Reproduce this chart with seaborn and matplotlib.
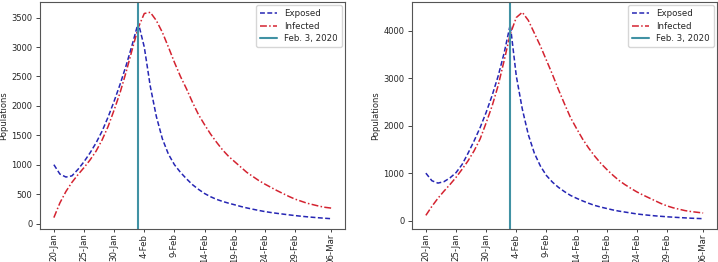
import matplotlib
matplotlib.use("Agg")
import matplotlib.pyplot as plt
import seaborn as sns
import pandas as pd
import numpy as np

# ---- data ----
dates = pd.date_range("2020-01-20", "2020-03-06", freq="D")
intervention_date = pd.Timestamp("2020-02-03")

exposed_left = [1000, 840, 790, 810, 920, 1050, 1200, 1370, 1570, 1810, 2080,
                2370, 2690, 3040, 3415, 3000, 2330, 1820, 1440, 1180, 1000,
                870, 760, 660, 580, 510, 455, 410, 375, 345, 318, 290, 265,
                243, 222, 203, 187, 173, 160, 147, 135, 124, 114, 105, 97, 89, 82]
infected_left = [100, 350, 544, 700, 830, 950, 1080, 1230, 1420, 1650, 1930,
                 2230, 2580, 2960, 3330, 3570, 3590, 3450, 3250, 3000, 2740,
                 2500, 2290, 2060, 1850, 1680, 1520, 1380, 1250, 1140, 1050,
                 960, 870, 800, 730, 670, 615, 560, 510, 460, 415, 380, 345,
                 320, 295, 275, 262]

exposed_right = [1000, 840, 790, 820, 900, 1010, 1180, 1420, 1680, 1960, 2280,
                 2640, 3050, 3540, 4130, 3050, 2350, 1810, 1420, 1150, 950,
                 810, 700, 610, 530, 470, 415, 365, 320, 285, 255, 225, 200,
                 180, 160, 140, 125, 112, 100, 90, 80, 72, 64, 57, 50, 45, 40]
infected_right = [110, 300, 470, 620, 760, 910, 1080, 1260, 1470, 1720, 2060,
                  2420, 2850, 3380, 3930, 4280, 4390, 4220, 3950, 3680, 3380,
                  3080, 2760, 2460, 2170, 1940, 1720, 1530, 1360, 1210, 1080,
                  960, 850, 760, 680, 605, 540, 480, 420, 360, 310, 270, 240,
                  210, 190, 175, 160]

tick_dates = pd.to_datetime(["2020-01-20", "2020-01-25", "2020-01-30", "2020-02-04",
                             "2020-02-09", "2020-02-14", "2020-02-19", "2020-02-24",
                             "2020-02-29", "2020-03-06"])
tick_labels = ["20-Jan", "25-Jan", "30-Jan", "4-Feb", "9-Feb", "14-Feb",
               "19-Feb", "24-Feb", "29-Feb", "06-Mar"]
left_yticks = [0, 500, 1000, 1500, 2000, 2500, 3000, 3500]
right_yticks = [0, 1000, 2000, 3000, 4000]

# ---- style ----
sns.set_style("ticks")
plt.rcParams["font.family"] = ["DejaVu Sans"]

fig = plt.figure(figsize=(7.18, 2.62), dpi=100)
ax1 = fig.add_axes([40 / 718, 1 - 229 / 262, 305 / 718, 227 / 262])
ax2 = fig.add_axes([412 / 718, 1 - 229 / 262, 305 / 718, 227 / 262])

panels = [(ax1, exposed_left, infected_left, left_yticks),
          (ax2, exposed_right, infected_right, right_yticks)]

for ax, exp_vals, inf_vals, yt in panels:
    df = pd.DataFrame({"date": dates, "Exposed": exp_vals, "Infected": inf_vals})
    sns.lineplot(data=df, x="date", y="Exposed", ax=ax, color="#2626b4",
                 linestyle=(0, (3.2, 1.6)), linewidth=1.1, label="Exposed")
    sns.lineplot(data=df, x="date", y="Infected", ax=ax, color="#d42330",
                 linestyle=(0, (4.5, 1.5, 1.0, 1.5)), linewidth=1.1,
                 label="Infected")
    ax.axvline(intervention_date, color="#4192a4", linewidth=1.5,
               label="Feb. 3, 2020")
    ax.set_xticks(tick_dates)
    ax.set_xticklabels(tick_labels, rotation=90, fontsize=6.2)
    ax.set_yticks(yt)
    ax.tick_params(axis="y", labelsize=6, length=3, width=0.6, pad=2.5)
    ax.tick_params(axis="x", length=2.5, width=0.6, pad=0.8)
    ax.set_xlabel("")
    ax.set_ylabel("Populations", fontsize=6)
    for s in ax.spines.values():
        s.set_linewidth(0.8)
        s.set_color("#555555")
    ax.legend(loc="upper right", fontsize=6.2, frameon=True,
              handlelength=2.0, borderpad=0.45, labelspacing=0.4,
              borderaxespad=0.4)

ax1.yaxis.set_label_coords(-0.105, 0.5)
ax2.yaxis.set_label_coords(-0.105, 0.5)

fig.savefig("out.png", dpi=100)
